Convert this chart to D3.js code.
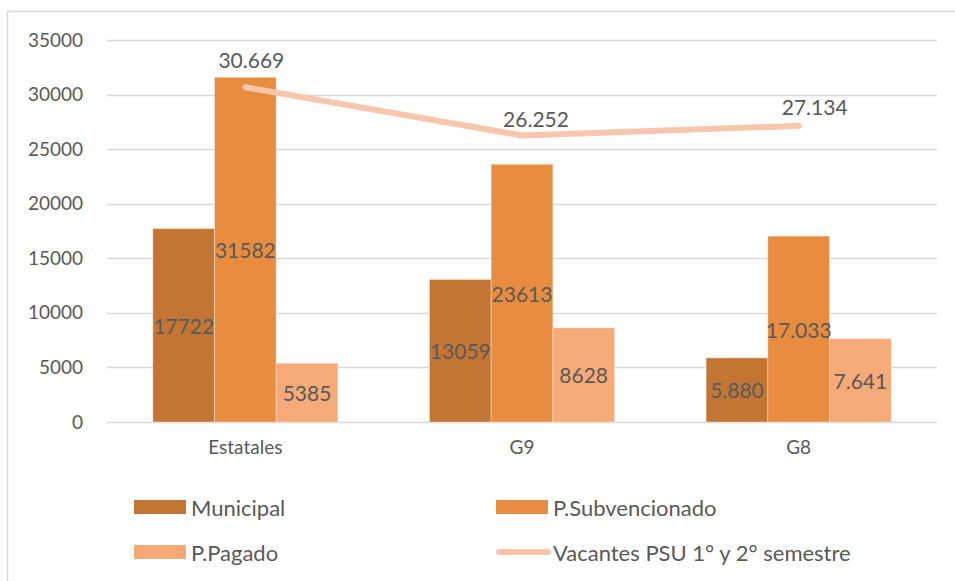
<!DOCTYPE html>
<html>
<head>
<meta charset="utf-8">
<script src="https://cdn.jsdelivr.net/npm/d3@7"></script>
<style>
  body { margin: 0; background: #fff; }
  text { font-family: Lato, "Open Sans", sans-serif; fill: #595959; }
</style>
</head>
<body>
<div id="chart"></div>
<script>
// chart values
const categories = ["Estatales", "G9", "G8"];
const seriesNames = ["Municipal", "P.Subvencionado", "P.Pagado"];
const municipal = [17722, 13059, 5880];
const subvencionado = [31582, 23613, 17033];
const pagado = [5385, 8628, 7641];
const barLabels = [
    ["17722", "13059", "5.880"],
    ["31582", "23613", "17.033"],
    ["5385", "8628", "7.641"]
];
const vacantes = [30669, 26252, 27134];
const vacantesLabels = ["30.669", "26.252", "27.134"];
const lineName = "Vacantes PSU 1° y 2° semestre";
const yTicks = [0, 5000, 10000, 15000, 20000, 25000, 30000, 35000];

const W = 955, H = 581;
const colors = ["#c37634", "#e88c40", "#f6aa77"];
const lineColor = "#f7c6ac";
// hand placed label nudges (like the original chart)
const lineLabelNudge = [[6, -28], [14, -17], [16, -19]];

const svg = d3.select("#chart").append("svg")
    .attr("width", W)
    .attr("height", H);

// outer border (top + left only visible)
svg.append("path")
    .attr("d", `M7.5,${H} L7.5,11.5 L${W},11.5`)
    .attr("fill", "none")
    .attr("stroke", "#d9d9d9")
    .attr("stroke-width", 1.5);

const x = d3.scaleBand().domain(categories).range([107, 937]).padding(0);
const bw = x.bandwidth();
const xSub = d3.scaleBand().domain(seriesNames)
    .range([bw * 0.1655, bw * 0.8345]).padding(0);
const y = d3.scaleLinear().domain([0, 35000]).range([422, 40]);

// gridlines
svg.append("g").selectAll("line")
    .data(yTicks)
    .join("line")
    .attr("x1", 107).attr("x2", 937)
    .attr("y1", d => Math.round(y(d)) + 0.5)
    .attr("y2", d => Math.round(y(d)) + 0.5)
    .attr("stroke", "#d9d9d9")
    .attr("stroke-width", 1.5);

// y axis labels
const yAxis = svg.append("g")
    .attr("transform", "translate(92,0)")
    .call(d3.axisLeft(y).tickValues(yTicks).tickSize(0).tickPadding(9).tickFormat(d3.format("d")));
yAxis.select(".domain").remove();
yAxis.selectAll("text")
    .attr("font-size", 19)
    .attr("fill", "#595959")
    .style("font-family", "Lato, sans-serif");

// x axis labels
const xAxis = svg.append("g")
    .attr("transform", "translate(0,422)")
    .call(d3.axisBottom(x).tickSize(0).tickPadding(19));
xAxis.select(".domain").remove();
xAxis.selectAll("text")
    .attr("font-size", 19)
    .attr("fill", "#595959")
    .style("font-family", "Lato, sans-serif");

// bars
const seriesValues = [municipal, subvencionado, pagado];
const barData = [];
seriesValues.forEach((vals, s) => {
    vals.forEach((v, i) => {
        barData.push({ cat: categories[i], series: seriesNames[s], s, value: v, label: barLabels[s][i] });
    });
});

svg.append("g").selectAll("rect")
    .data(barData)
    .join("rect")
    .attr("x", d => x(d.cat) + xSub(d.series))
    .attr("y", d => y(d.value))
    .attr("width", xSub.bandwidth())
    .attr("height", d => y(0) - y(d.value))
    .attr("fill", d => colors[d.s])
    .attr("stroke", "#ffffff")
    .attr("stroke-opacity", 0.35)
    .attr("stroke-width", 1);

// vacantes line
const line = d3.line()
    .x((d, i) => x(categories[i]) + bw / 2)
    .y(d => y(d));
svg.append("path")
    .datum(vacantes)
    .attr("d", line)
    .attr("fill", "none")
    .attr("stroke", lineColor)
    .attr("stroke-width", 6)
    .attr("stroke-linecap", "round")
    .attr("stroke-linejoin", "round");

// bar labels (centered)
svg.append("g").selectAll("text")
    .data(barData)
    .join("text")
    .attr("x", d => x(d.cat) + xSub(d.series) + xSub.bandwidth() / 2)
    .attr("y", d => (y(d.value) + y(0)) / 2)
    .attr("text-anchor", "middle")
    .attr("dominant-baseline", "central")
    .attr("font-size", 21)
    .attr("fill", "#404040")
    .text(d => d.label);

// line labels
svg.append("g").selectAll("text")
    .data(vacantes)
    .join("text")
    .attr("x", (d, i) => x(categories[i]) + bw / 2 + lineLabelNudge[i][0])
    .attr("y", (d, i) => y(d) + lineLabelNudge[i][1])
    .attr("text-anchor", "middle")
    .attr("dominant-baseline", "central")
    .attr("font-size", 21)
    .attr("fill", "#404040")
    .text((d, i) => vacantesLabels[i]);

// legend
const legendItems = [
    { name: seriesNames[0], type: "rect", color: colors[0], x: 134, y: 507 },
    { name: seriesNames[1], type: "rect", color: colors[1], x: 496, y: 507 },
    { name: seriesNames[2], type: "rect", color: colors[2], x: 134, y: 552 },
    { name: lineName, type: "line", color: lineColor, x: 496, y: 552 }
];
const legend = svg.append("g").selectAll("g")
    .data(legendItems)
    .join("g")
    .attr("transform", d => `translate(${d.x},${d.y})`);

legend.filter(d => d.type === "rect").append("rect")
    .attr("x", 0).attr("y", -7)
    .attr("width", 52).attr("height", 14)
    .attr("fill", d => d.color);

legend.filter(d => d.type === "line").append("line")
    .attr("x1", 3).attr("x2", 52)
    .attr("y1", 0).attr("y2", 0)
    .attr("stroke", d => d.color)
    .attr("stroke-width", 6)
    .attr("stroke-linecap", "round");

legend.append("text")
    .attr("x", 57)
    .attr("y", 0)
    .attr("dominant-baseline", "central")
    .attr("font-size", 22)
    .attr("fill", "#595959")
    .text(d => d.name);
</script>
</body>
</html>
